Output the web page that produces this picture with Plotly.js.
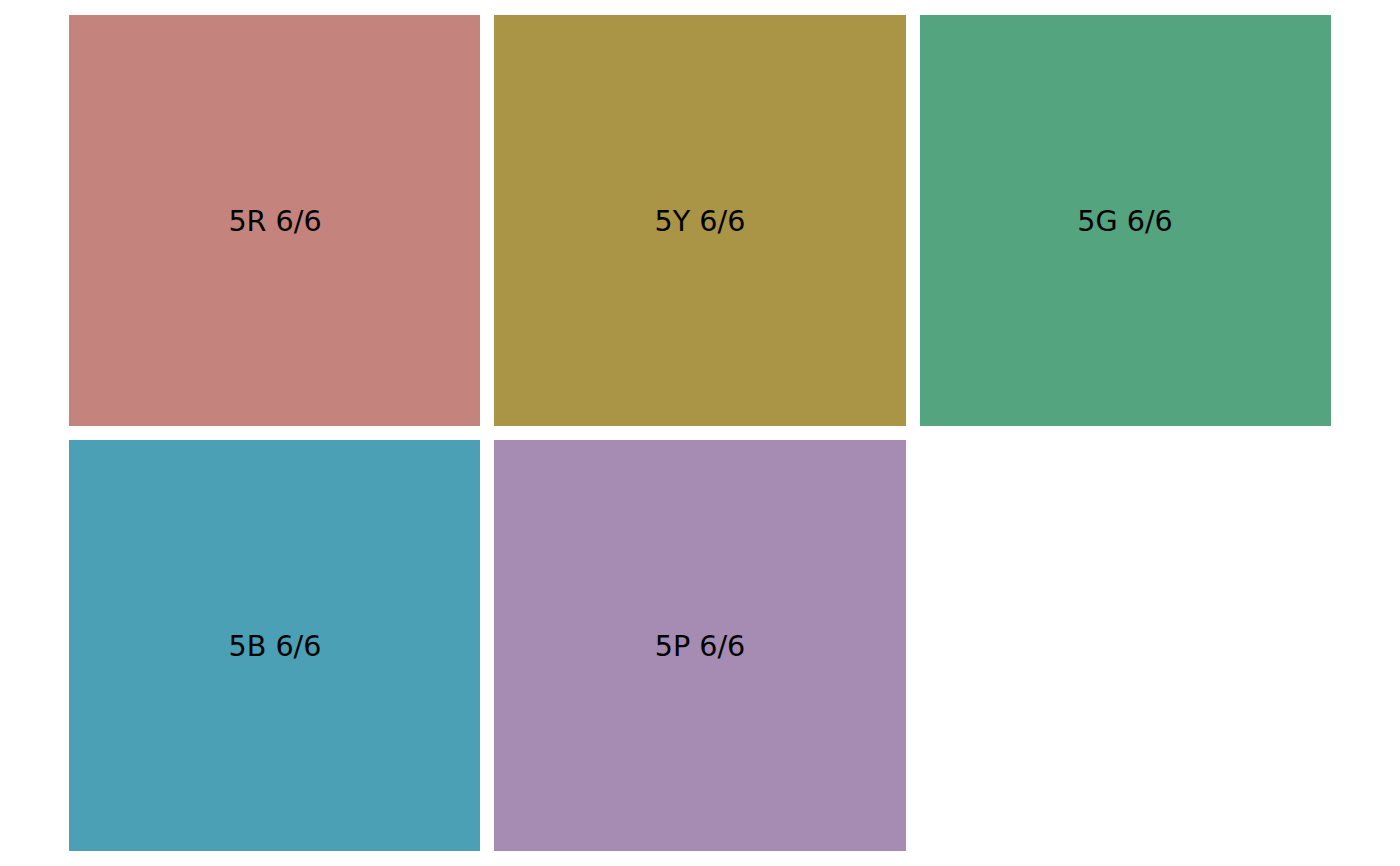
<!DOCTYPE html>
<html>
<head>
<meta charset="utf-8">
<script src="https://cdn.plot.ly/plotly-3.0.1.min.js"></script>
<style>
  html, body { margin: 0; padding: 0; background: #fff; }
  #chart { width: 1400px; height: 866px; }
</style>
</head>
<body>
<div id="chart"></div>
<script>
// Munsell swatches, hue 5, value 6, chroma 6
const labels = ['5R 6/6', '5Y 6/6', '5G 6/6', '5B 6/6', '5P 6/6'];
const colours = ['#C5837E', '#AA9445', '#53A47F', '#4BA0B5', '#A68BB3'];
const cols = [0, 1, 2, 0, 1];
const rows = [0, 0, 0, 1, 1];

const nCol = 3;
const nRow = 2;

// build grid from the arrays
let z = [];
let text = [];
for (let r = 0; r < nRow; r++) {
    z.push(new Array(nCol).fill(null));
    text.push(new Array(nCol).fill(''));
}
labels.forEach((lab, i) => {
    z[rows[i]][cols[i]] = i;
    text[rows[i]][cols[i]] = lab;
});

const colorscale = colours.map((c, i) => [i / (colours.length - 1), c]);

const trace = {
    type: 'heatmap',
    z: z,
    text: text,
    texttemplate: '%{text}',
    textfont: { family: 'DejaVu Sans', size: 28.6, color: '#000' },
    colorscale: colorscale,
    zmin: 0,
    zmax: colours.length - 1,
    showscale: false,
    xgap: 14,
    ygap: 14,
    hoverinfo: 'text'
};

const layout = {
    width: 1400,
    height: 866,
    margin: { l: 62, r: 62, t: 8, b: 8 },
    paper_bgcolor: '#fff',
    plot_bgcolor: '#fff',
    xaxis: { visible: false, range: [-0.5, nCol - 0.5], fixedrange: true },
    yaxis: { visible: false, range: [nRow - 0.5, -0.5], fixedrange: true },
    showlegend: false
};

Plotly.newPlot('chart', [trace], layout, { displayModeBar: false, staticPlot: true });
</script>
</body>
</html>
